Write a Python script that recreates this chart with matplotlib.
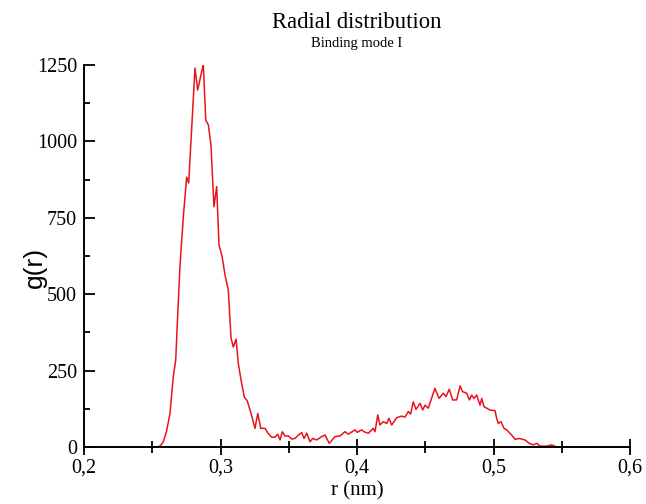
import matplotlib
matplotlib.use("Agg")
import matplotlib.pyplot as plt
from matplotlib.ticker import FuncFormatter, MultipleLocator

# radial distance (nm) and g(r)
r_nm = [
    0.2500, 0.2533, 0.2557, 0.2581, 0.2604, 0.2630, 0.2654, 0.2672, 0.2686,
    0.2703, 0.2711, 0.2729, 0.2752, 0.2767, 0.2791, 0.2813, 0.2833, 0.2853,
    0.2874, 0.2892, 0.2911, 0.2930, 0.2952, 0.2972, 0.2989, 0.3011, 0.3033,
    0.3057, 0.3077, 0.3094, 0.3114, 0.3130, 0.3150, 0.3174, 0.3196, 0.3223,
    0.3253, 0.3273, 0.3295, 0.3326, 0.3348, 0.3375, 0.3399, 0.3419, 0.3436,
    0.3453, 0.3473, 0.3497, 0.3522, 0.3546, 0.3570, 0.3595, 0.3612, 0.3632,
    0.3656, 0.3675, 0.3705, 0.3741, 0.3766, 0.3778, 0.3797, 0.3839, 0.3875,
    0.3912, 0.3936, 0.3985, 0.4002, 0.4034, 0.4051, 0.4083, 0.4119, 0.4132,
    0.4152, 0.4168, 0.4193, 0.4218, 0.4234, 0.4254, 0.4291, 0.4327, 0.4352,
    0.4376, 0.4393, 0.4412, 0.4432, 0.4462, 0.4481, 0.4498, 0.4522, 0.4571,
    0.4601, 0.4632, 0.4652, 0.4676, 0.4701, 0.4730, 0.4755, 0.4774, 0.4804,
    0.4823, 0.4840, 0.4857, 0.4877, 0.4901, 0.4914, 0.4930, 0.4950, 0.4974,
    0.5011, 0.5023, 0.5035, 0.5055, 0.5077, 0.5097, 0.5133, 0.5158, 0.5189,
    0.5231, 0.5262, 0.5292, 0.5317, 0.5341, 0.5390, 0.5426, 0.5463, 0.5560,
    0.5692,
]
g_r = [
    0, 0, 3, 17, 50, 110, 230, 285, 427,
    590, 645, 760, 883, 864, 1060, 1240, 1168, 1210,
    1252, 1070, 1054, 988, 786, 852, 661, 625, 563,
    514, 357, 327, 353, 275, 220, 164, 151, 111,
    61, 110, 61, 61, 45, 32, 32, 42, 23,
    50, 36, 36, 26, 28, 39, 47, 28, 45,
    17, 28, 23, 34, 39, 28, 12, 34, 36,
    50, 42, 56, 48, 56, 50, 45, 61, 50,
    105, 72, 83, 77, 94, 72, 96, 101, 98,
    116, 108, 148, 123, 143, 121, 137, 127, 192,
    159, 176, 165, 189, 154, 154, 200, 181, 176,
    154, 170, 159, 170, 137, 159, 132, 127, 121,
    119, 94, 77, 83, 61, 56, 39, 25, 28,
    23, 12, 7, 12, 3, 3, 7, 0, 0,
    0,
]

SERIF = ["Liberation Serif", "DejaVu Serif"]

fig = plt.figure(figsize=(6.46, 5.04), dpi=100)
ax = fig.add_axes([84 / 646, 57 / 504, 546 / 646, 382 / 504])

ax.plot(r_nm, g_r, color="#e8141a", linewidth=1.1)

ax.set_xlim(0.2, 0.6)
ax.set_ylim(0, 1250)
ax.xaxis.set_major_locator(MultipleLocator(0.1))
ax.xaxis.set_minor_locator(MultipleLocator(0.05))
ax.yaxis.set_major_locator(MultipleLocator(250))
ax.yaxis.set_minor_locator(MultipleLocator(125))
ax.xaxis.set_major_formatter(FuncFormatter(lambda v, p: f"{v:.1f}".replace(".", ",")))

for s in ["top", "right"]:
    ax.spines[s].set_visible(False)
for s in ["left", "bottom"]:
    ax.spines[s].set_linewidth(1.4)

ax.tick_params(axis="x", which="major", direction="inout", length=12, width=1.3, pad=2)
ax.tick_params(axis="x", which="minor", direction="inout", length=8, width=1.3)
ax.tick_params(axis="y", which="major", direction="in", length=8, width=1.3, pad=5)
ax.tick_params(axis="y", which="minor", direction="in", length=4.5, width=1.3)
for lab in ax.get_xticklabels() + ax.get_yticklabels():
    lab.set_family(SERIF)
    lab.set_fontsize(14.5)

ax.set_xlabel("r (nm)", family=SERIF, fontsize=15, labelpad=3)
ax.set_ylabel("g(r)", family=["Liberation Sans", "DejaVu Sans"], fontsize=19,
              va="center")
ax.yaxis.set_label_coords(-0.09, 0.47)

fig.text(357 / 646, 1 - 28 / 504, "Radial distribution", family=SERIF, fontsize=16.3,
         ha="center", va="baseline")
fig.text(357 / 646, 1 - 47 / 504, "Binding mode I", family=SERIF, fontsize=10.5,
         ha="center", va="baseline")

fig.savefig("out.png", dpi=100)
